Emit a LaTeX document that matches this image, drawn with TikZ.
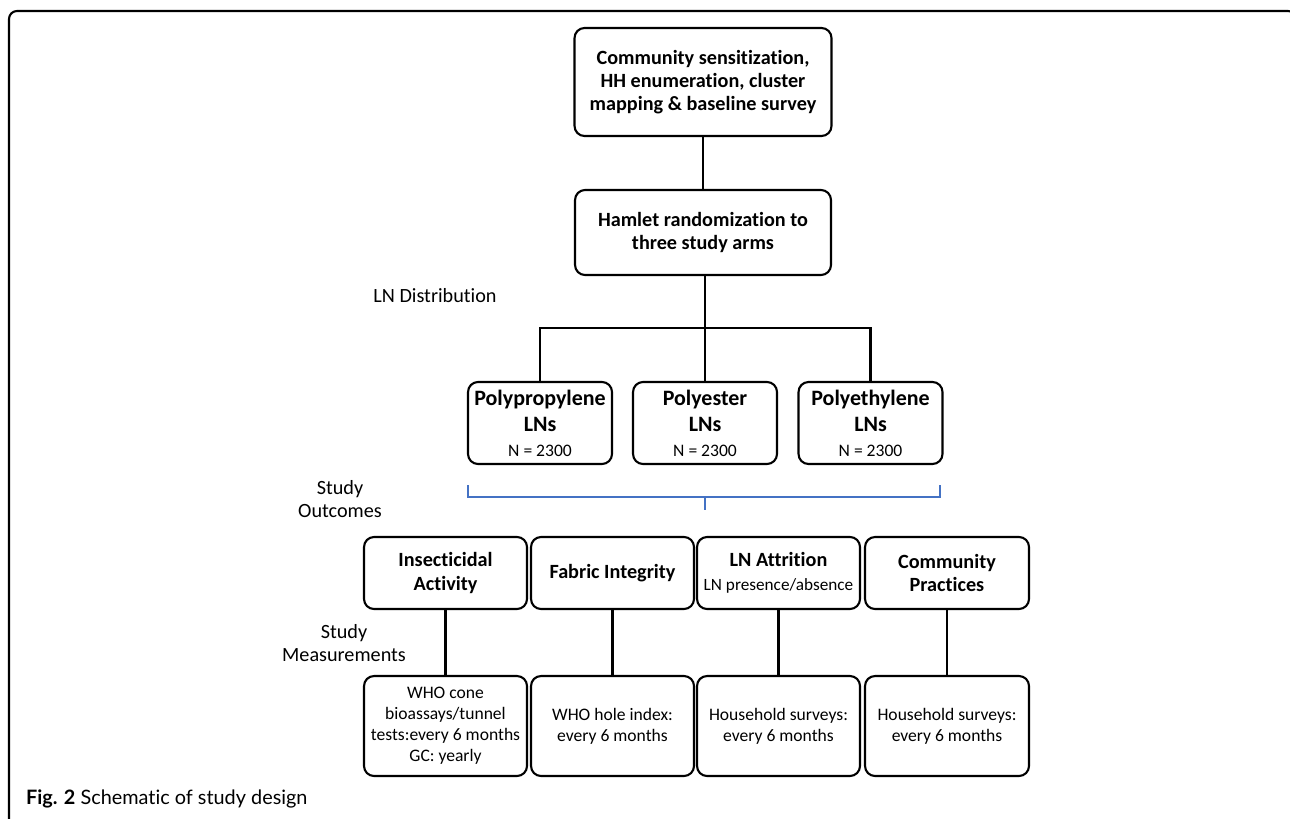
\documentclass[tikz,border=0pt]{standalone}
\usepackage{fontspec}
\setmainfont{Carlito}[Ligatures=NoCommon]
\newfontfamily\capfont{Lato}[Ligatures=NoCommon]
\usepackage{tikz}
\usetikzlibrary{positioning}

\begin{document}
\begin{tikzpicture}[x=0.02cm, y=-0.02cm, line width=1.2pt]
\tikzstyle{stagebox}=[draw, rounded corners=0.2cm, align=center, inner sep=2pt]
\tikzstyle{headtxt}=[font=\bfseries\fontsize{11.5}{13.2}\selectfont]
\tikzstyle{armtxt}=[font=\bfseries\fontsize{12.5}{15}\selectfont]
\tikzstyle{outtxt}=[font=\bfseries\fontsize{11.5}{13.6}\selectfont]
\tikzstyle{meastxt}=[font=\fontsize{10}{12}\selectfont]
\tikzstyle{sidetxt}=[align=center, font=\fontsize{11.5}{13.6}\selectfont]
\tikzstyle{link}=[line width=1.3pt]
\useasboundingbox (0,0) rectangle (1290,818);
\clip (0,0) rectangle (1290,818);
% frame
\draw[rounded corners=0.16cm] (9,830) -- (9,11) -- (1296,11) -- (1296,830);
% design steps
\node[stagebox, headtxt, minimum width=5.14cm, minimum height=2.16cm] (prep) at (703,82) {Community sensitization,\\HH enumeration, cluster\\mapping \& baseline survey};
\node[stagebox, headtxt, minimum width=5.12cm, minimum height=1.7cm] (rand) at (703,232.5) {Hamlet randomization to\\three study arms};
\node[stagebox, armtxt, minimum width=2.88cm, minimum height=1.64cm] (arm1) at (540,423) {Polypropylene\\LNs\\[-1pt]{\normalfont\fontsize{10}{11}\selectfont N = 2300}};
\node[stagebox, armtxt, minimum width=2.88cm, minimum height=1.64cm] (arm2) at (705,423) {Polyester\\LNs\\[-1pt]{\normalfont\fontsize{10}{11}\selectfont N = 2300}};
\node[stagebox, armtxt, minimum width=2.88cm, minimum height=1.64cm] (arm3) at (870.5,423) {Polyethylene\\LNs\\[-1pt]{\normalfont\fontsize{10}{11}\selectfont N = 2300}};
\coordinate (bar) at (705,328);
\draw[link] (prep) -- (rand);
\draw[link] (arm2.north |- rand.south) -- (arm2.north);
\draw[link] (arm1.north) |- (bar) -| (arm3.north);
% outcomes and measurements
\node[stagebox, outtxt, minimum width=3.26cm, minimum height=1.44cm] (out1) at (445.5,573) {Insecticidal\\Activity};
\node[stagebox, outtxt, minimum width=3.26cm, minimum height=1.44cm] (out2) at (612.5,573) {Fabric Integrity};
\node[stagebox, outtxt, minimum width=3.26cm, minimum height=1.44cm] (out3) at (778.5,573) {LN Attrition\\{\normalfont\fontsize{9.8}{11}\selectfont LN presence/absence}};
\node[stagebox, outtxt, minimum width=3.28cm, minimum height=1.44cm] (out4) at (947,573) {Community\\Practices};
\node[stagebox, meastxt, minimum width=3.26cm, minimum height=2cm] (meas1) at (445.5,726) {WHO cone\\bioassays/tunnel\\tests:every 6 months\\GC: yearly};
\node[stagebox, meastxt, minimum width=3.26cm, minimum height=2cm] (meas2) at (612.5,726) {WHO hole index:\\every 6 months};
\node[stagebox, meastxt, minimum width=3.26cm, minimum height=2cm] (meas3) at (778.5,726) {Household surveys:\\every 6 months};
\node[stagebox, meastxt, minimum width=3.28cm, minimum height=2cm] (meas4) at (947,726) {Household surveys:\\every 6 months};
\foreach \x/\y in {out1/meas1,out2/meas2,out3/meas3,out4/meas4}{\draw[link] (\x) -- (\y);}
% brace under the arms
\draw[color={rgb,255:red,68;green,114;blue,196}, line width=0.9pt] (468,485) -- (468,497) -- (940,497) -- (940,485) (705,497) -- (705,510);
% side labels
\node[sidetxt] (lbldist) at (435,296) {LN Distribution};
\node[sidetxt] (lblout) at (340,499) {Study\\Outcomes};
\node[sidetxt] (lblmeas) at (344,643) {Study\\Measurements};
\node[anchor=west, inner sep=0pt, font=\capfont\fontsize{11.3}{13}\selectfont] (caption) at (25,799) {\textbf{Fig. 2} Schematic of study design};
\end{tikzpicture}
\end{document}
